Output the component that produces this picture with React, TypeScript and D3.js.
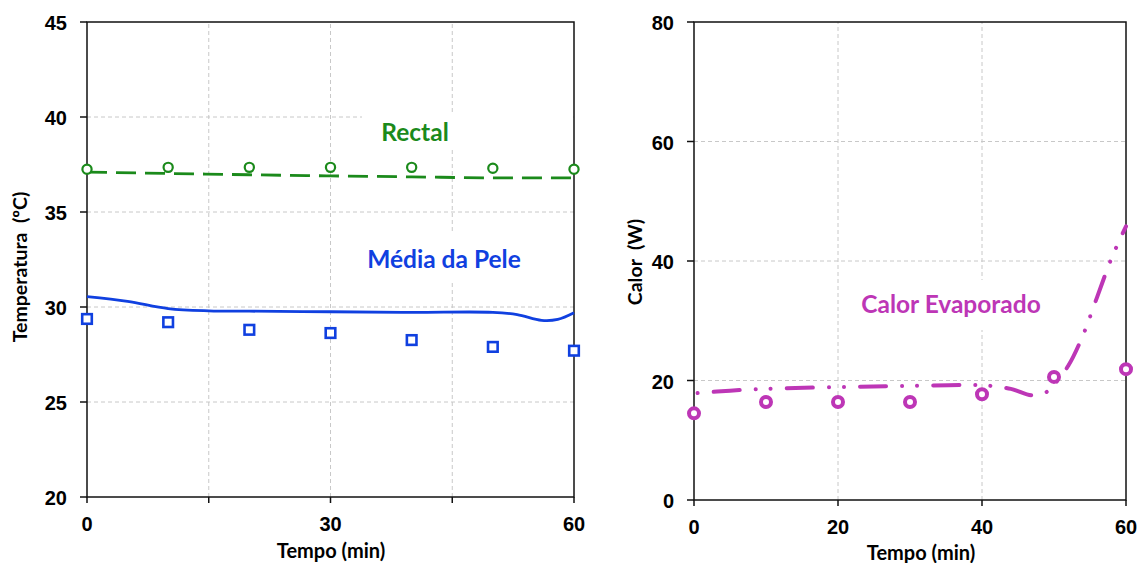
import React, { useRef, useEffect } from 'react';
import * as d3 from 'd3';

// measured points (open markers)
const sampleTimes = [0, 10, 20, 30, 40, 50, 60];
const rectalPoints = [37.25, 37.35, 37.35, 37.35, 37.35, 37.3, 37.25];
const skinPoints = [29.37, 29.2, 28.8, 28.63, 28.26, 27.9, 27.7];
const evapPoints = [14.5, 16.4, 16.4, 16.4, 17.7, 20.6, 21.9];

// model curves
const rectalLineX = [0, 10, 20, 30, 40, 50, 60];
const rectalLineY = [37.1, 37.03, 36.96, 36.9, 36.85, 36.8, 36.8];
const skinLineX = [0, 5, 10, 15, 20, 30, 40, 50, 53, 56, 58, 60];
const skinLineY = [30.55, 30.3, 29.92, 29.8, 29.78, 29.75, 29.72, 29.72, 29.6, 29.3, 29.35, 29.7];
const evapLineX = [0.5, 5, 10, 20, 30, 40, 44, 47, 49, 50, 52, 54, 56, 58, 60];
const evapLineY = [17.9, 18.3, 18.6, 18.9, 19.1, 19.2, 18.6, 17.5, 18.1, 19.3, 22.5, 27.5, 34, 40.5, 45.8];

const tempTicks = [20, 25, 30, 35, 40, 45];
const tempXTicks = [0, 15, 30, 45, 60];
const tempXLabels = [0, 30, 60];
const heatTicks = [0, 20, 40, 60, 80];
const heatXTicks = [0, 20, 40, 60];

const GREEN = '#1b8a1b';
const BLUE = '#1040e0';
const MAGENTA = '#bd36b6';
const GRID = '#c8c8c8';
const TICK_FONT = '"Liberation Sans", Arial, sans-serif';
const LABEL_FONT = 'Lato, "Open Sans", sans-serif';

const App = () => {
  const ref = useRef<SVGSVGElement>(null);

  useEffect(() => {
    const svg = d3.select(ref.current);
    svg.selectAll('*').remove();

    const frame = (
      x: d3.ScaleLinear<number, number>,
      y: d3.ScaleLinear<number, number>,
      xTicks: number[],
      xLabels: number[],
      yTicks: number[],
      xGrid: number[],
    ) => {
      const g = svg.append('g');
      const [x0, x1] = x.range();
      const [y0, y1] = y.range();
      g.selectAll('.hg')
        .data(yTicks.slice(1, -1))
        .enter()
        .append('line')
        .attr('x1', x0).attr('x2', x1)
        .attr('y1', (d) => y(d)).attr('y2', (d) => y(d))
        .attr('stroke', GRID).attr('stroke-dasharray', '4 3');
      g.selectAll('.vg')
        .data(xGrid)
        .enter()
        .append('line')
        .attr('y1', y0).attr('y2', y1)
        .attr('x1', (d) => x(d)).attr('x2', (d) => x(d))
        .attr('stroke', GRID).attr('stroke-dasharray', '4 3');
      g.append('rect')
        .attr('x', x0).attr('y', y1)
        .attr('width', x1 - x0).attr('height', y0 - y1)
        .attr('fill', 'none').attr('stroke', '#111').attr('stroke-width', 1.5);
      // y ticks
      g.selectAll('.yt')
        .data(yTicks)
        .enter()
        .append('line')
        .attr('x1', x0 - 7).attr('x2', x0)
        .attr('y1', (d) => y(d)).attr('y2', (d) => y(d))
        .attr('stroke', '#111').attr('stroke-width', 1.5);
      g.selectAll('.yl')
        .data(yTicks)
        .enter()
        .append('text')
        .attr('x', x0 - 20).attr('y', (d) => y(d) + 8)
        .attr('text-anchor', 'end')
        .attr('font-family', TICK_FONT).attr('font-weight', 'bold').attr('font-size', 20)
        .text((d) => d);
      g.selectAll('.xt')
        .data(xTicks)
        .enter()
        .append('line')
        .attr('x1', (d) => x(d)).attr('x2', (d) => x(d))
        .attr('y1', y0).attr('y2', y0 + 6)
        .attr('stroke', '#111').attr('stroke-width', 1.5);
      g.selectAll('.xl')
        .data(xLabels)
        .enter()
        .append('text')
        .attr('x', (d) => x(d)).attr('y', y0 + 34)
        .attr('text-anchor', 'middle')
        .attr('font-family', TICK_FONT).attr('font-weight', 'bold').attr('font-size', 20)
        .text((d) => d);
      return g;
    };

    const label = (text: string, cx: number, cy: number, color: string, box: [number, number, number, number]) => {
      svg.append('rect')
        .attr('x', box[0]).attr('y', box[1]).attr('width', box[2]).attr('height', box[3])
        .attr('fill', 'white');
      svg.append('text')
        .attr('x', cx).attr('y', cy)
        .attr('text-anchor', 'middle')
        .attr('font-family', LABEL_FONT).attr('font-weight', 'bold').attr('font-size', 24.5)
        .attr('fill', color)
        .text(text);
    };

    const axisTitle = (text: string, x: number, y: number, size: number, rotate = false) => {
      svg.append('text')
        .attr('transform', `translate(${x},${y})${rotate ? ' rotate(-90)' : ''}`)
        .attr('text-anchor', 'middle')
        .attr('font-family', LABEL_FONT).attr('font-weight', 'bold').attr('font-size', size)
        .style('white-space', 'pre')
        .text(text);
    };

    // ---- left chart: temperatures
    const xL = d3.scaleLinear().domain([0, 60]).range([87, 574]);
    const yL = d3.scaleLinear().domain([20, 45]).range([497, 22]);
    frame(xL, yL, tempXTicks, tempXLabels, tempTicks, [15, 30, 45]);

    label('Rectal', 415, 141, GREEN, [362, 112, 211, 38]);
    label('Média da Pele', 444, 268, BLUE, [355, 232, 190, 48]);

    const lineL = d3.line<[number, number]>()
      .x((d) => xL(d[0])).y((d) => yL(d[1]))
      .curve(d3.curveMonotoneX);

    svg.append('path')
      .attr('d', lineL(rectalLineX.map((v, i) => [v, rectalLineY[i]])))
      .attr('fill', 'none').attr('stroke', GREEN).attr('stroke-width', 2.8)
      .attr('stroke-dasharray', '20 9');
    svg.append('path')
      .attr('d', d3.line<[number, number]>()
        .x((d) => xL(d[0])).y((d) => yL(d[1]))
        .curve(d3.curveCatmullRom)(skinLineX.map((v, i) => [v, skinLineY[i]])))
      .attr('fill', 'none').attr('stroke', BLUE).attr('stroke-width', 2.8);

    svg.append('g').selectAll('circle')
      .data(sampleTimes)
      .enter()
      .append('circle')
      .attr('cx', (d) => xL(d)).attr('cy', (d, i) => yL(rectalPoints[i]))
      .attr('r', 4.6)
      .attr('fill', 'white').attr('stroke', GREEN).attr('stroke-width', 2.2);
    svg.append('g').selectAll('rect')
      .data(sampleTimes)
      .enter()
      .append('rect')
      .attr('x', (d) => xL(d) - 4.8).attr('y', (d, i) => yL(skinPoints[i]) - 4.8)
      .attr('width', 9.6).attr('height', 9.6)
      .attr('fill', 'white').attr('stroke', BLUE).attr('stroke-width', 2.6);

    axisTitle('Tempo (min)', 331, 558, 20);
    axisTitle('Temperatura  (ºC)', 27, 267, 19.5, true);

    // ---- right chart: evaporative heat
    const xR = d3.scaleLinear().domain([0, 60]).range([694, 1126]);
    const yR = d3.scaleLinear().domain([0, 80]).range([500, 22]);
    frame(xR, yR, heatXTicks, heatXTicks, heatTicks, [20, 40]);

    label('Calor Evaporado', 951, 313, MAGENTA, [852, 280, 198, 50]);

    svg.append('path')
      .attr('d', d3.line<[number, number]>()
        .x((d) => xR(d[0])).y((d) => yR(d[1]))
        .curve(d3.curveCatmullRom)(evapLineX.map((v, i) => [v, evapLineY[i]])))
      .attr('fill', 'none').attr('stroke', MAGENTA).attr('stroke-width', 4)
      .attr('stroke-linecap', 'round')
      .attr('stroke-dasharray', '26 16 0.1 15 0.1 16')
      .attr('stroke-dashoffset', 57);

    svg.append('g').selectAll('circle')
      .data(sampleTimes)
      .enter()
      .append('circle')
      .attr('cx', (d) => xR(d)).attr('cy', (d, i) => yR(evapPoints[i]))
      .attr('r', 5)
      .attr('fill', 'white').attr('stroke', MAGENTA).attr('stroke-width', 4);

    axisTitle('Tempo (min)', 921, 560, 20);
    axisTitle('Calor  (W)', 642, 262, 19.5, true);
  }, []);

  return (
    <svg
      ref={ref}
      width={1140}
      height={563}
      style={{ position: 'absolute', left: 0, top: 0, background: 'white' }}
    />
  );
};

export default App;
